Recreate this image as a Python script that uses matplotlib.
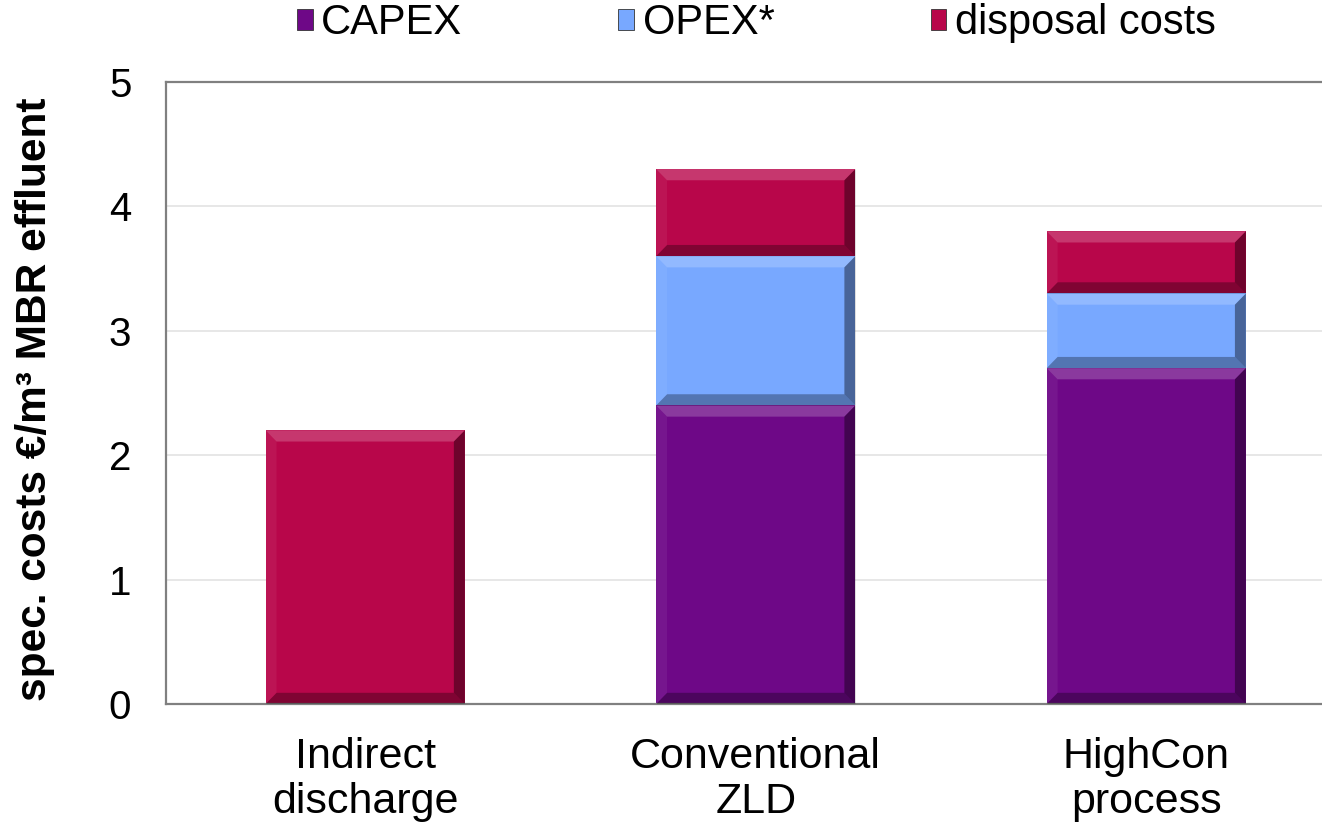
import numpy as np
import matplotlib
matplotlib.use("Agg")
import matplotlib.pyplot as plt
from matplotlib.patches import Polygon, Patch

plt.rcParams['font.family'] = ['Liberation Sans', 'DejaVu Sans']

# DATA
categories = ["Indirect\ndischarge", "Conventional\nZLD", "HighCon\nprocess"]
capex = [0.0, 2.4, 2.7]
opex = [0.0, 1.2, 0.6]
disposal = [2.2, 0.7, 0.5]
series_names = ["CAPEX", "OPEX*", "disposal costs"]
colors = ["#6E0887", "#78A8FF", "#B8064A"]

fig = plt.figure(figsize=(13.22, 8.30), dpi=100)
ax = fig.add_axes([0.1256, 0.1518, 0.8744, 0.7494])

x = np.arange(len(categories))
width = 0.51
bx = 0.028   # bevel size in data units (x)
by = 0.09    # bevel size in data units (y)


def bevel(ax, x0, y0, w, h):
    # simple bevel look: light top/left, dark bottom/right
    x1, y1 = x0 + w, y0 + h
    dx = min(bx, w / 4)
    dy = min(by, h / 4)
    faces = [
        ([(x0, y1), (x1, y1), (x1 - dx, y1 - dy), (x0 + dx, y1 - dy)], "white", 0.2),
        ([(x0, y0), (x1, y0), (x1 - dx, y0 + dy), (x0 + dx, y0 + dy)], "black", 0.3),
        ([(x0, y0), (x0, y1), (x0 + dx, y1 - dy), (x0 + dx, y0 + dy)], "white", 0.06),
        ([(x1, y0), (x1, y1), (x1 - dx, y1 - dy), (x1 - dx, y0 + dy)], "black", 0.4),
    ]
    for pts, c, a in faces:
        ax.add_patch(Polygon(pts, closed=True, facecolor=c, alpha=a,
                             edgecolor="none", zorder=3))


bottom = np.zeros(len(categories))
for vals, name, col in zip([capex, opex, disposal], series_names, colors):
    vals = np.array(vals)
    bars = ax.bar(x, vals, width, bottom=bottom, color=col, label=name,
                  zorder=2, edgecolor="none")
    for b in bars:
        if b.get_height() > 0:
            bevel(ax, b.get_x(), b.get_y(), b.get_width(), b.get_height())
    bottom = bottom + vals

ax.set_ylim(0, 5)
ax.set_xlim(-0.51, 2.45)
ax.set_yticks([0, 1, 2, 3, 4, 5])
ax.yaxis.grid(True, color="#e3e3e3", linewidth=1.2, zorder=0)
ax.set_axisbelow(True)
ax.set_xticks(x)
ax.set_xticklabels(categories, fontsize=31, linespacing=1.15)
ax.tick_params(axis="y", length=0, pad=25, labelsize=29)
ax.tick_params(axis="x", length=0, pad=24)

for s in ["left", "top", "bottom"]:
    ax.spines[s].set_color("#808080")
    ax.spines[s].set_linewidth(1.6)
ax.spines["right"].set_visible(False)

ax.set_ylabel("spec. costs €/m³ MBR effluent", fontsize=30.5, fontweight="bold",
              labelpad=0)
ax.yaxis.set_label_coords(-0.096, 0.49)

handles = [Patch(facecolor=c, edgecolor="#333333", linewidth=0.6) for c in colors]
fig.legend(handles, series_names, loc="center", bbox_to_anchor=(0.572, 0.972),
           ncol=3, frameon=False, fontsize=30, handlelength=0.38,
           handleheight=0.42, handletextpad=0.2, columnspacing=3.75)

plt.savefig("out.png", dpi=100)
